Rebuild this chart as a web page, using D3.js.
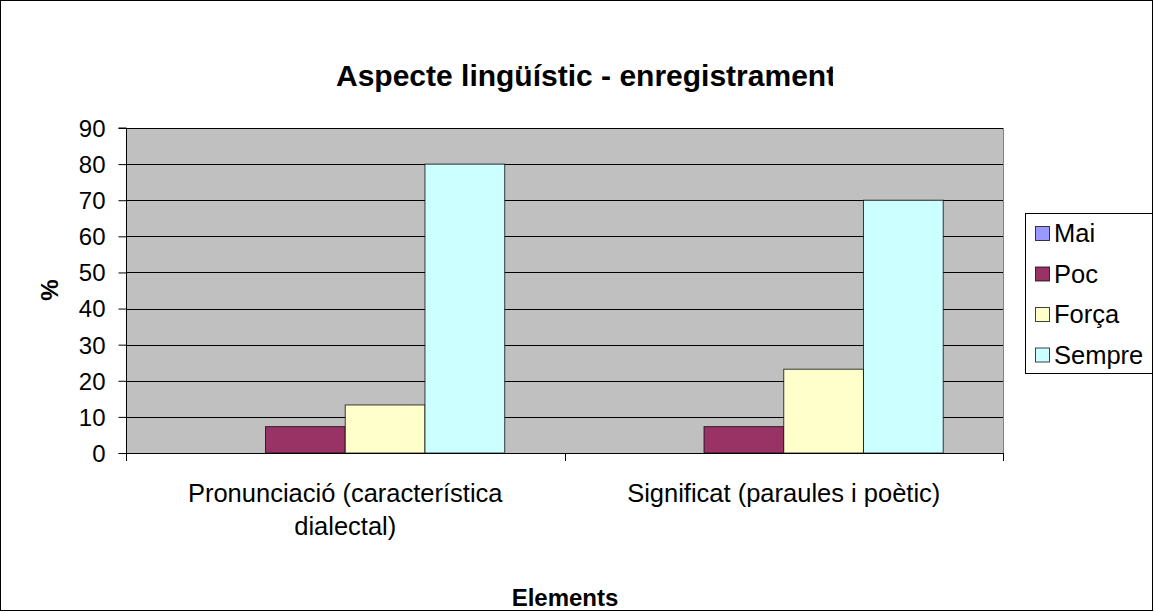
<!DOCTYPE html>
<html><head><meta charset="utf-8">
<script src="https://cdn.jsdelivr.net/npm/d3@7"></script>
<style>body{margin:0;background:#fff}svg{display:block}text{font-family:"Liberation Sans",Arial,sans-serif;fill:#000}</style>
</head><body>
<script>
const categories = [["Pronunciació (característica", "dialectal)"], ["Significat (paraules i poètic)"]];
const seriesNames = ["Mai", "Poc", "Força", "Sempre"];
const seriesColors = ["#9999FF", "#993366", "#FFFFCC", "#CCFFFF"];
const valuesMai = [0, 0];
const valuesPoc = [7.3, 7.3];
const valuesForca = [13.3, 23.2];
const valuesSempre = [80, 70];
const yTicks = [0, 10, 20, 30, 40, 50, 60, 70, 80, 90];

const W = 1155, H = 612;
const svg = d3.select("body").append("svg").attr("width", W).attr("height", H);
svg.append("rect").attr("x", 0.5).attr("y", 0.5).attr("width", W - 3).attr("height", H - 2)
  .attr("fill", "#fff").attr("stroke", "#000").attr("stroke-width", 1);

const L = 126, R = 1003, T = 128, B = 453;
const y = d3.scaleLinear().domain([0, 90]).range([B, T]);
const x0 = d3.scaleBand().domain(d3.range(categories.length)).range([L, R]).paddingInner(0).paddingOuter(0);
const gapRatio = 1.5;
const bw = x0.bandwidth() / (seriesNames.length + gapRatio);
const x1 = d3.scaleBand().domain(seriesNames)
  .range([bw * gapRatio / 2, x0.bandwidth() - bw * gapRatio / 2]).padding(0);

svg.append("rect").attr("x", L).attr("y", T).attr("width", R - L).attr("height", B - T).attr("fill", "#C0C0C0");

svg.append("g").selectAll("line").data(yTicks.filter(d => d > 0)).join("line")
  .attr("x1", L).attr("x2", R).attr("y1", d => Math.round(y(d)) + 0.5).attr("y2", d => Math.round(y(d)) + 0.5)
  .attr("stroke", "#000").attr("stroke-width", 1);
svg.append("line").attr("x1", R + 0.5).attr("x2", R + 0.5).attr("y1", T).attr("y2", B).attr("stroke", "#808080");

const series = [valuesMai, valuesPoc, valuesForca, valuesSempre];
seriesNames.forEach((name, si) => {
  svg.append("g").selectAll("rect").data(series[si]).join("rect")
    .attr("x", (d, i) => x0(i) + x1(name))
    .attr("y", d => y(d))
    .attr("width", x1.bandwidth())
    .attr("height", d => B - y(d))
    .attr("fill", seriesColors[si])
    .attr("stroke", d => d > 0 ? "#000" : "none")
    .attr("stroke-opacity", 0.75)
    .attr("stroke-width", 1);
});

const yAxis = d3.axisLeft(y).tickValues(yTicks).tickSize(8).tickPadding(13).tickFormat(d3.format("d"));
const ya = svg.append("g").attr("transform", `translate(${L + 0.5},0)`).call(yAxis);
ya.select(".domain").attr("stroke", "#000").attr("d", `M-8,${T}H0V${B}`);
ya.selectAll(".tick line").attr("stroke", "#000");
ya.selectAll(".tick text").style("font-size", "24px").attr("dy", "0.35em")
  .attr("font-family", "Liberation Sans, Arial, sans-serif");

svg.append("line").attr("x1", L).attr("x2", R + 1).attr("y1", B + 0.5).attr("y2", B + 0.5).attr("stroke", "#000");
svg.append("g").selectAll("line").data(d3.range(categories.length + 1)).join("line")
  .attr("x1", i => Math.round(L + i * x0.bandwidth()) + 0.5).attr("x2", i => Math.round(L + i * x0.bandwidth()) + 0.5)
  .attr("y1", B).attr("y2", B + 8).attr("stroke", "#000");
categories.forEach((lines, i) => {
  const t = svg.append("text").attr("x", x0(i) + x0.bandwidth() / 2).attr("y", 502)
    .attr("text-anchor", "middle").style("font-size", "25.5px");
  lines.forEach((ln, k) => t.append("tspan").attr("x", x0(i) + x0.bandwidth() / 2).attr("dy", k === 0 ? 0 : 33).text(ln));
});

svg.append("clipPath").attr("id", "tclip").append("rect").attr("x", 0).attr("y", 0).attr("width", 833).attr("height", 120);
svg.append("text").attr("x", 336).attr("y", 86).attr("text-anchor", "start").attr("clip-path", "url(#tclip)")
  .style("font-size", "30px").style("font-weight", "bold").text("Aspecte lingüístic - enregistrament");
svg.append("text").attr("x", 565).attr("y", 606).attr("text-anchor", "middle")
  .style("font-size", "24px").style("font-weight", "bold").text("Elements");
svg.append("text").attr("transform", "translate(58,290) rotate(-90)").attr("text-anchor", "middle")
  .style("font-size", "24px").style("font-weight", "bold").text("%");

const lg = svg.append("g");
lg.append("rect").attr("x", 1025.5).attr("y", 213.5).attr("width", 127).attr("height", 160)
  .attr("fill", "#fff").attr("stroke", "#000");
seriesNames.forEach((name, i) => {
  const cy = 233 + i * 40.5;
  lg.append("rect").attr("x", 1035.5).attr("y", cy - 6.5).attr("width", 14).attr("height", 14)
    .attr("fill", seriesColors[i]).attr("stroke", "#000").attr("stroke-opacity", 0.75);
  lg.append("text").attr("x", 1054).attr("y", cy + 9).style("font-size", "25.5px").text(name);
});
</script>
</body></html>
